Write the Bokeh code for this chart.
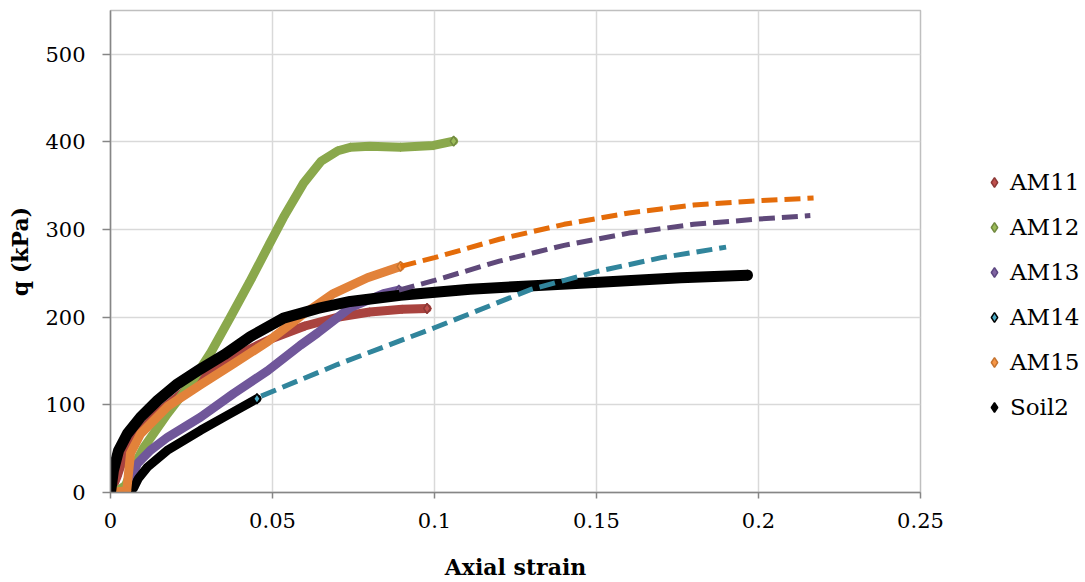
import math
from bokeh.plotting import figure
from bokeh.models import Legend, LegendItem, FixedTicker, Range1d
from bokeh.embed import file_html
from bokeh.resources import INLINE

# ---------------- data ----------------
x_ticks = [0, 0.05, 0.1, 0.15, 0.2, 0.25]
x_tick_labels = ["0", "0.05", "0.1", "0.15", "0.2", "0.25"]
y_ticks = [0, 100, 200, 300, 400, 500]
y_tick_labels = ["0", "100", "200", "300", "400", "500"]

series_names = ["AM11", "AM12", "AM13", "AM14", "AM15", "Soil2"]

am11_strain = [0, 0.002, 0.004, 0.008, 0.015, 0.022, 0.0278, 0.035, 0.0432, 0.05, 0.06, 0.07, 0.08, 0.09, 0.0977]
am11_q = [0, 18, 40, 64, 92, 113, 130, 148, 164, 176, 190, 200, 206, 209, 210]

am12_strain = [0.0015, 0.0046, 0.0071, 0.0102, 0.0176, 0.0247, 0.031, 0.037, 0.0432, 0.0494,
               0.0534, 0.0596, 0.065, 0.0702, 0.0741, 0.08, 0.0895, 0.0997, 0.1059]
am12_q = [0, 8, 29, 51, 90, 124, 160, 200, 242, 286, 314, 353, 378, 390, 394, 395, 394, 396, 401]

am13_strain = [0.0046, 0.0062, 0.0083, 0.0123, 0.0176, 0.0278, 0.038, 0.0485, 0.0586, 0.0639, 0.074, 0.0843, 0.089]
am13_q = [0, 14, 33, 48, 63, 86, 113, 139, 168, 182, 211, 227, 231]

am14_strain = [0.0056, 0.0071, 0.0086, 0.0114, 0.0175, 0.0278, 0.036, 0.0452]
am14_q = [0, 5, 16, 29, 48, 71, 88, 107]

am15_strain = [0, 0.005, 0.0062, 0.0093, 0.0176, 0.0278, 0.038, 0.0485, 0.0586, 0.0688, 0.0793, 0.0895]
am15_q = [0, 2, 45, 67, 98, 123, 147, 172, 201, 227, 245, 258]

soil2_strain = [0, 0.0009, 0.0025, 0.0052, 0.0093, 0.0145, 0.0207, 0.0278, 0.035, 0.0432, 0.0534,
                0.064, 0.074, 0.0895, 0.111, 0.1306, 0.151, 0.176, 0.1966]
soil2_q = [0, 25, 48, 67, 86, 105, 124, 141, 157, 178, 199, 210, 218, 225, 232, 236, 240, 245, 248]

# dashed fitted extensions
am13_fit_strain = [0.089, 0.1, 0.12, 0.14, 0.16, 0.18, 0.2, 0.216]
am13_fit_q = [231, 242, 264, 282, 296, 306, 312, 316]

am14_fit_strain = [0.0465, 0.07, 0.1, 0.13, 0.15, 0.17, 0.19]
am14_fit_q = [110, 146, 188, 232, 252, 268, 280]

am15_fit_strain = [0.0895, 0.1, 0.12, 0.14, 0.16, 0.18, 0.2, 0.217]
am15_fit_q = [258, 268, 289, 306, 319, 328, 333, 336]

# ---------------- styling ----------------
FONT = "DejaVu Serif"
AXIS_GRAY = "#868686"
GRID_GRAY = "#D9D9D9"

p = figure(frame_width=810, frame_height=482,
           x_range=Range1d(0, 0.25), y_range=Range1d(0, 550),
           min_border_left=110, min_border_top=10, min_border_bottom=88, min_border_right=155,
           output_backend="svg", toolbar_location=None,
           background_fill_color="white", border_fill_color="white")

p.outline_line_color = "#BFBFBF"
p.outline_line_width = 1.5

p.xaxis.ticker = FixedTicker(ticks=x_ticks)
p.yaxis.ticker = FixedTicker(ticks=y_ticks)
p.xaxis.major_label_overrides = {t: s for t, s in zip(x_ticks, x_tick_labels)}
p.yaxis.major_label_overrides = {t: s for t, s in zip(y_ticks, y_tick_labels)}

for ax in (p.xaxis, p.yaxis):
    ax.axis_line_color = AXIS_GRAY
    ax.axis_line_width = 1.5
    ax.major_tick_line_color = AXIS_GRAY
    ax.major_tick_line_width = 1.5
    ax.major_tick_in = 0
    ax.minor_tick_line_color = None
    ax.major_label_text_font = FONT
    ax.major_label_text_font_size = "21px"
    ax.major_label_text_color = "black"
    ax.axis_label_text_font = FONT
    ax.axis_label_text_font_size = "22px"
    ax.axis_label_text_font_style = "bold"
    ax.axis_label_text_color = "black"

p.yaxis.major_tick_out = 8
p.yaxis.major_label_standoff = 17
p.xaxis.major_tick_out = 6
p.xaxis.major_label_standoff = 14

p.xaxis.axis_label = "Axial strain"
p.yaxis.axis_label = "q (kPa)"
p.xaxis.axis_label_standoff = 23
p.yaxis.axis_label_standoff = 9
p.yaxis.axis_label_text_align = "left"

p.xgrid.grid_line_color = GRID_GRAY
p.ygrid.grid_line_color = GRID_GRAY
p.xgrid.grid_line_width = 1.5
p.ygrid.grid_line_width = 1.5

DIAMOND_ANGLE = math.pi / 4

measured = [
    ("AM11", am11_strain, am11_q, "#A9433F", "#C0504D", "#8C3836", 9),
    ("AM12", am12_strain, am12_q, "#8AA84C", "#9BBB59", "#71893F", 9),
    ("AM13", am13_strain, am13_q, "#70579A", "#8064A2", "#5C4780", 9),
    ("AM14", am14_strain, am14_q, "#000000", "#4BACC6", "#000000", 9),
    ("AM15", am15_strain, am15_q, "#E2823A", "#F79646", "#C5732F", 9),
    ("Soil2", soil2_strain, soil2_q, "#000000", "#000000", "#000000", 11),
]

legend_items = []
for name, xs, ys, lcol, mfill, mline, lw in measured:
    p.line(xs, ys, line_color=lcol, line_width=lw, line_cap="round", line_join="round")
    p.scatter(xs, ys, marker="square", angle=DIAMOND_ANGLE, size=6,
              fill_color=lcol, line_color=lcol, line_width=1)
    end = p.scatter([xs[-1]], [ys[-1]], marker="diamond", size=10,
                    fill_color=mfill, line_color=mline, line_width=1.5)
    legend_items.append(LegendItem(label=name, renderers=[end]))

fits = [
    (am15_fit_strain, am15_fit_q, "#E46C0A"),
    (am13_fit_strain, am13_fit_q, "#5F497A"),
    (am14_fit_strain, am14_fit_q, "#31859C"),
]
for xs, ys, col in fits:
    p.line(xs, ys, line_color=col, line_width=5, line_dash="16 7", line_cap="butt",
           line_join="round")

legend = Legend(items=legend_items, location=(62, 72),
                glyph_width=24, glyph_height=24, label_height=20, spacing=19,
                padding=10, margin=0, label_standoff=4,
                label_text_font=FONT, label_text_font_size="23px",
                label_text_color="black",
                border_line_color=None, background_fill_alpha=0)
p.add_layout(legend, "right")

open("out.html", "w").write(file_html(p, INLINE))
